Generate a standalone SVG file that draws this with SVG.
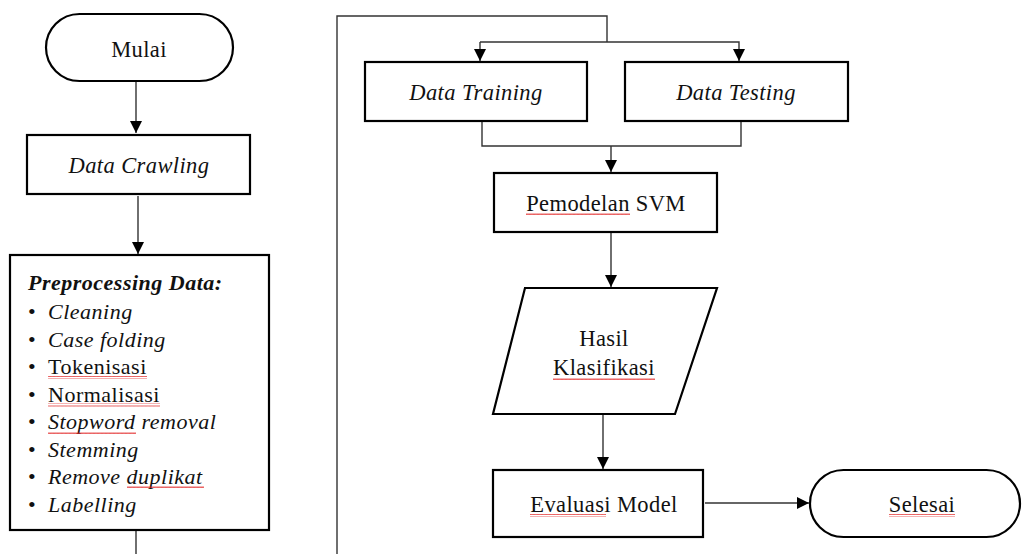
<svg xmlns="http://www.w3.org/2000/svg" width="1024" height="554" viewBox="0 0 1024 554">
<style>
.box{fill:#fff;stroke:#000;stroke-width:2.2}
.ln{fill:none;stroke:#333;stroke-width:1.4}
.t{font-family:"Liberation Serif","Times New Roman",serif;font-size:22.5px;letter-spacing:0.4px;fill:#111;text-anchor:middle}
.l{font-family:"Liberation Serif","Times New Roman",serif;font-size:22px;letter-spacing:0.5px;fill:#111}
.i{font-style:italic}
</style>
<defs>
<marker id="ah" viewBox="0 0 10 10" refX="10" refY="5" markerWidth="12" markerHeight="12" markerUnits="userSpaceOnUse" orient="auto">
<path d="M0,0 L10,5 L0,10 Z" fill="#000"/>
</marker>
<pattern id="wave" width="4" height="3" patternUnits="userSpaceOnUse">
<path d="M0,2 L1,0.5 L2,2 L3,0.5 L4,2" fill="none" stroke="#e02020" stroke-width="0.8"/>
</pattern>
</defs>
<g id="connectors">
<path class="ln" d="M136,81 V133" marker-end="url(#ah)"/>
<path class="ln" d="M138,196 V254" marker-end="url(#ah)"/>
<path class="ln" d="M136,531 V554"/>
<path class="ln" d="M337,554 V16 H607 V42"/>
<path class="ln" d="M480,42 H739 V61" marker-end="url(#ah)"/>
<path class="ln" d="M480,42 V61" marker-end="url(#ah)"/>
<path class="ln" d="M482,122 V146 H741 V122"/>
<path class="ln" d="M611,146 V172" marker-end="url(#ah)"/>
<path class="ln" d="M611,233 V287" marker-end="url(#ah)"/>
<path class="ln" d="M603,414 V469" marker-end="url(#ah)"/>
<path class="ln" d="M705,503 H809" marker-end="url(#ah)"/>
</g>
<g id="mulai">
<rect class="box" x="46" y="14" width="187" height="67" rx="33.5"/>
<text class="t" x="139" y="57">Mulai</text>
</g>
<g id="data-crawling">
<rect class="box" x="27" y="135" width="223" height="59"/>
<text class="t i" x="139" y="173">Data Crawling</text>
</g>
<g id="preprocessing">
<rect class="box" x="10" y="255" width="259" height="275"/>
<text class="l" x="28" y="290" font-weight="bold" font-style="italic">Preprocessing Data:</text>
<g class="l">
<text x="28" y="319">•</text><text class="l i" x="48" y="319">Cleaning</text>
<text x="28" y="346.5">•</text><text class="l i" x="48" y="346.5">Case folding</text>
<text x="28" y="374">•</text><text class="l" x="48" y="374">Tokenisasi</text>
<text x="28" y="401.5">•</text><text class="l" x="48" y="401.5">Normalisasi</text>
<text x="28" y="429">•</text><text class="l i" x="48" y="429">Stopword removal</text>
<text x="28" y="456.5">•</text><text class="l i" x="48" y="456.5">Stemming</text>
<text x="28" y="484">•</text><text class="l i" x="48" y="484">Remove duplikat</text>
<text x="28" y="511.5">•</text><text class="l i" x="48" y="511.5">Labelling</text>
</g>
<rect x="48" y="376" width="99" height="3" fill="url(#wave)"/>
<rect x="48" y="403.5" width="112" height="3" fill="url(#wave)"/>
<rect x="48" y="431" width="88" height="3" fill="url(#wave)"/>
<rect x="127" y="486" width="77" height="3" fill="url(#wave)"/>
</g>
<g id="data-training">
<rect class="box" x="365" y="62" width="222" height="59"/>
<text class="t i" x="476" y="100">Data Training</text>
</g>
<g id="data-testing">
<rect class="box" x="625" y="62" width="223" height="59"/>
<text class="t i" x="736" y="100">Data Testing</text>
</g>
<g id="pemodelan-svm">
<rect class="box" x="494" y="173" width="223" height="59"/>
<text class="t" x="606" y="211">Pemodelan SVM</text>
<rect x="526" y="213" width="104" height="3" fill="url(#wave)"/>
</g>
<g id="hasil-klasifikasi">
<path class="box" d="M525,288 H717 L675,414 H493 Z"/>
<text class="t" x="604" y="346">Hasil</text>
<text class="t" x="604" y="375">Klasifikasi</text>
<rect x="553" y="377" width="102" height="3" fill="url(#wave)"/>
</g>
<g id="evaluasi-model">
<rect class="box" x="493" y="470" width="210" height="67"/>
<text class="t" x="604" y="512">Evaluasi Model</text>
<rect x="530" y="514" width="76" height="3" fill="url(#wave)"/>
</g>
<g id="selesai">
<rect class="box" x="810" y="470" width="210" height="67" rx="33.5"/>
<text class="t" x="922" y="512">Selesai</text>
<rect x="889" y="514" width="66" height="3" fill="url(#wave)"/>
</g>
</svg>
